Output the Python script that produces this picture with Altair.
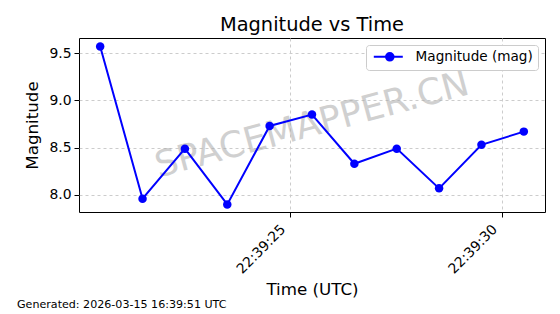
import altair as alt
import pandas as pd
from datetime import datetime, timezone

# Data
times = ["2026-03-15T22:39:20.520Z", "2026-03-15T22:39:21.520Z", "2026-03-15T22:39:22.520Z",
         "2026-03-15T22:39:23.520Z", "2026-03-15T22:39:24.520Z", "2026-03-15T22:39:25.520Z",
         "2026-03-15T22:39:26.520Z", "2026-03-15T22:39:27.520Z", "2026-03-15T22:39:28.520Z",
         "2026-03-15T22:39:29.520Z", "2026-03-15T22:39:30.520Z"]
mags = [9.57, 7.96, 8.49, 7.90, 8.73, 8.85, 8.33, 8.49, 8.07, 8.53, 8.67]
series_name = "Magnitude (mag)"
x_tick_times = ["22:39:25", "22:39:30"]
y_ticks = [8.0, 8.5, 9.0, 9.5]
title_text = "Magnitude vs Time"
footer_text = "Generated: 2026-03-15 16:39:51 UTC"
watermark = "SPACEMAPPER.CN"

def ms(h, m, s, frac=0.0):
    d = datetime(2026, 3, 15, h, m, s, int(round(frac * 1e6)), tzinfo=timezone.utc)
    return d.timestamp() * 1000

x_domain = [ms(22, 39, 20, 0.02), ms(22, 39, 31, 0.02)]
x_values = [ms(*[int(p) for p in t.split(":")]) for t in x_tick_times]

df = pd.DataFrame({"time": times, "mag": mags, "series": [series_name] * len(times)})

FONT = "DejaVu Sans"
W, H = 466, 174
TICK_FS = 13.9

legend_path = ("M-1,0L2.05,0M3.95,0L6.25,0"
               "M2.05,0A0.95,0.95 0 1,1 3.95,0A0.95,0.95 0 1,1 2.05,0Z")

x_enc = alt.X("time:T", scale=alt.Scale(type="utc", domain=x_domain, nice=False),
              axis=alt.Axis(values=x_values, labelExpr="utcFormat(datum.value, '%H:%M:%S')",
                            labelAngle=-45, labelAlign="right", labelBaseline="middle",
                            labelOffset=-7, labelPadding=10,
                            title="Time (UTC)", titlePadding=6))
y_enc = alt.Y("mag:Q", scale=alt.Scale(domain=[7.82, 9.66], nice=False, zero=False),
              axis=alt.Axis(values=y_ticks, format=".1f", title="Magnitude",
                            titlePadding=7, labelPadding=3))
color_enc = alt.Color("series:N", scale=alt.Scale(domain=[series_name], range=["#0000ff"]),
                      legend=alt.Legend(title=None, orient="top-right", offset=7,
                                        symbolType=legend_path,
                                        symbolSize=64, symbolStrokeWidth=2,
                                        symbolFillColor="#0000ff", symbolStrokeColor="#0000ff",
                                        labelOffset=31,
                                        labelFontSize=13.6, labelFont=FONT, labelColor="black",
                                        fillColor="white", strokeColor="#cccccc", cornerRadius=3,
                                        padding=5))

base = alt.Chart(df)
line = base.mark_line(color="#0000ff", strokeWidth=2).encode(x=x_enc, y=y_enc)
pts = base.mark_point(filled=True, size=72, opacity=1).encode(x=x_enc, y=y_enc, color=color_enc)

one = pd.DataFrame({"k": [0]})
wm = alt.Chart(one).mark_text(fontSize=36, font=FONT, color="#aaaaaa", opacity=0.55,
                              angle=345, align="center", baseline="middle").encode(
    x=alt.value(W / 2), y=alt.value(H / 2), text=alt.value(watermark))
foot = alt.Chart(one).mark_text(fontSize=11.1, font=FONT, color="black", align="left",
                                baseline="middle").encode(
    x=alt.value(17 - 79), y=alt.value(305 - 38), text=alt.value(footer_text))

chart = alt.layer(wm, line, pts, foot).properties(
    width=W, height=H,
    background="white",
    title=alt.TitleParams(title_text, fontSize=19.4, font=FONT, fontWeight="normal",
                          anchor="middle", offset=3, color="black"),
    autosize=alt.AutoSizeParams(type="none"),
    padding={"left": 79, "top": 38, "right": 15, "bottom": 102},
).configure_view(stroke="black", strokeWidth=1).configure_axis(
    domain=False, grid=True, gridColor="#cccccc", gridDash=[3, 3], gridWidth=1,
    tickColor="black", tickSize=5, labelFont=FONT, titleFont=FONT, labelFontSize=TICK_FS,
    labelColor="black", titleColor="black", titleFontWeight="normal", titleFontSize=16.7
)

chart.save("out.html", embed_options={"renderer": "svg", "actions": False})
